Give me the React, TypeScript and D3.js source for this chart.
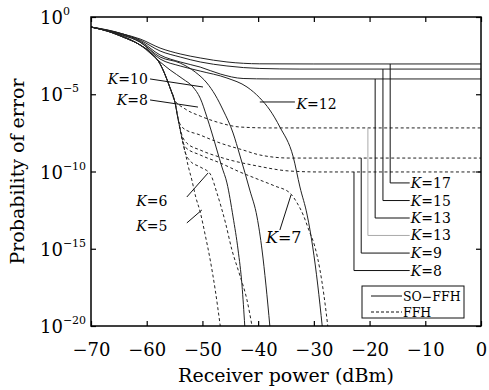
import { useEffect, useRef } from "react";
import * as d3 from "d3";

type Pt = [number, number]; // [receiver power dBm, log10 of error probability]

// SO-FFH (solid)
const soK17: Pt[] = [[-70, -0.65], [-64.3, -1.1], [-61.2, -1.42], [-57.6, -2.01], [-54, -2.39], [-50.4, -2.65], [-45.6, -2.91], [-39.7, -3.03], [-30, -3.04], [0, -3.04]];
const soK15: Pt[] = [[-70, -0.65], [-64.3, -1.1], [-61.2, -1.49], [-57.6, -2.2], [-54, -2.59], [-50.4, -2.91], [-45.6, -3.17], [-39.7, -3.33], [-32.5, -3.37], [0, -3.37]];
const soK13: Pt[] = [[-70, -0.65], [-64.3, -1.1], [-61.2, -1.55], [-57.6, -2.46], [-54, -2.91], [-50.4, -3.24], [-46.8, -3.69], [-42.7, -3.98], [-37.9, -4.01], [0, -4.01]];
const soK12: Pt[] = [[-70, -0.65], [-64.3, -1.17], [-61.2, -1.62], [-57.6, -2.72], [-54, -3.17], [-50.4, -3.5], [-45.6, -3.95], [-42, -4.53], [-39.7, -5.24], [-37.9, -6.02], [-36.1, -7.12], [-33.7, -9.06], [-32.5, -11], [-31.2, -12.82], [-30.2, -14.89], [-29.3, -17.35], [-28.5, -20]];
const soK10: Pt[] = [[-70, -0.65], [-64.3, -1.17], [-61.2, -1.62], [-57.6, -2.59], [-54, -2.98], [-51.3, -3.56], [-49.2, -4.27], [-47.7, -5.05], [-46.3, -6.02], [-44.5, -7.51], [-43.3, -8.93], [-41.5, -11.2], [-40.2, -12.94], [-39.3, -15.08], [-38.6, -17.35], [-37.9, -20]];
const soK8: Pt[] = [[-70, -0.65], [-64.3, -1.23], [-61.2, -1.81], [-57.6, -2.91], [-55.8, -3.43], [-53.5, -4.01], [-51.7, -4.53], [-50.4, -5.25], [-49.2, -6.47], [-48.3, -7.51], [-47.4, -8.61], [-46.5, -9.71], [-45.6, -10.74], [-44.5, -12.94], [-43.6, -15.08], [-42.9, -17.35], [-42.4, -20]];

// FFH (dashed)
const ffhStart: Pt[] = [[-70, -0.65], [-66.6, -0.97], [-64.3, -1.29], [-61.2, -1.81], [-59.4, -2.27], [-57.6, -3.04], [-55.8, -4.6]];
const ffhK13: Pt[] = [...ffhStart, [-55.1, -5.31], [-53.1, -5.95], [-50.4, -6.41], [-46.8, -6.86], [-43.3, -7.12], [-37.9, -7.18], [0, -7.18]];
const ffhK9: Pt[] = [...ffhStart, [-54.9, -5.57], [-54.4, -6.54], [-53.5, -7.18], [-50.4, -7.64], [-46.8, -8.16], [-42.7, -8.61], [-39.7, -8.93], [-34.3, -9.13], [0, -9.13]];
const ffhK8: Pt[] = [...ffhStart, [-54.9, -5.57], [-54.4, -6.54], [-53.8, -7.51], [-52.8, -8.16], [-50.4, -8.61], [-46.3, -9.13], [-40.2, -9.64], [-34.3, -9.97], [-28.9, -10.03], [0, -10.03]];
const ffhK7: Pt[] = [...ffhStart, [-54.9, -5.57], [-54.4, -6.54], [-53.8, -7.64], [-53.1, -8.41], [-50.4, -8.93], [-46.8, -9.45], [-43.3, -10.03], [-39.7, -10.55], [-37, -10.94], [-34.3, -11.39], [-33, -12.04], [-31.9, -12.82], [-30.9, -13.79], [-29.8, -14.89], [-28.9, -16.38], [-28.2, -17.99], [-27.5, -20]];
const ffhK6: Pt[] = [...ffhStart, [-54.9, -5.57], [-54.4, -6.54], [-53.8, -7.64], [-53.1, -8.74], [-52.2, -9.32], [-50.4, -9.71], [-48.6, -10.16], [-47.4, -11.39], [-45.9, -13.27], [-44.7, -15.08], [-43.3, -16.7], [-42, -18.32], [-41.1, -20]];
const ffhK5: Pt[] = [...ffhStart, [-54.9, -5.57], [-54.4, -6.54], [-53.8, -7.64], [-53.1, -8.74], [-52.6, -9.58], [-51.9, -10.55], [-51.2, -11.65], [-50.4, -12.62], [-49.5, -14.11], [-48.6, -15.73], [-47.7, -17.67], [-46.8, -20]];

const solidCurves = [soK17, soK15, soK13, soK12, soK10, soK8];
const dashedCurves = [ffhK13, ffhK9, ffhK8, ffhK7, ffhK6, ffhK5];

const xTicks = [-70, -60, -50, -40, -30, -20, -10, 0];
const yTicks = [0, -5, -10, -15, -20];

// right-hand labels: floor level, leader x, label level
const rightLabels = ["17", "15", "13", "13", "9", "8"];
const rightFloors = [-3.04, -3.37, -4.01, -7.18, -9.13, -10.03];
const rightLeaderX = [-16.3, -17.6, -19.0, -20.3, -21.5, -22.8];
const rightLabelY = [-10.74, -11.88, -13.01, -14.14, -15.28, -16.41];
const rightGray = [false, false, false, true, false, false];

// in-plot labels: text, anchor point, leader start, leader end
const sideLabels = [
  { k: "10", at: [-59.8, -4.01], anchor: "end", from: [-59.4, -4.01], to: [-49.9, -4.53] },
  { k: "8", at: [-59.8, -5.37], anchor: "end", from: [-59.4, -5.37], to: [-50.8, -5.83] },
  { k: "6", at: [-56.3, -11.91], anchor: "end", from: [-52.8, -11.65], to: [-49.0, -10.1] },
  { k: "5", at: [-56.3, -13.53], anchor: "end", from: [-52.8, -13.33], to: [-50.1, -12.49] },
  { k: "12", at: [-33.1, -5.63], anchor: "start", from: [-39.7, -5.5], to: [-33.4, -5.5] },
  { k: "7", at: [-35.4, -14.3], anchor: "middle", from: [-36.1, -13.79], to: [-34.1, -11.52] },
];

const FONT = "'DejaVu Serif', serif";

const App = () => {
  const ref = useRef<SVGSVGElement | null>(null);

  useEffect(() => {
    if (!ref.current) return;
    const width = 489;
    const height = 390;
    const margin = { top: 17, right: 8, bottom: 64, left: 91 };

    const svg = d3.select(ref.current);
    svg.selectAll("*").remove();
    svg.attr("width", width).attr("height", height);

    const x = d3.scaleLinear().domain([-70, 0]).range([margin.left, width - margin.right]);
    const y = d3.scaleLinear().domain([0, -20]).range([margin.top, height - margin.bottom]);

    const line = d3
      .line<Pt>()
      .x((d) => x(d[0]))
      .y((d) => y(d[1]))
      .curve(d3.curveMonotoneX);

    const plot = svg.append("g");

    // FFH curves
    dashedCurves.forEach((c, i) => {
      plot
        .append("path")
        .attr("d", line(c))
        .attr("fill", "none")
        .attr("stroke", "#222")
        .attr("stroke-width", 1)
        .attr("stroke-dasharray", "3,2.5")
        .attr("stroke-dashoffset", i * 0.9);
    });

    // SO-FFH curves
    solidCurves.forEach((c) => {
      plot
        .append("path")
        .attr("d", line(c))
        .attr("fill", "none")
        .attr("stroke", "#222")
        .attr("stroke-width", 1);
    });

    // right leaders
    rightLabels.forEach((k, i) => {
      const lx = x(rightLeaderX[i]);
      plot
        .append("path")
        .attr("d", `M${lx},${y(rightFloors[i])}V${y(rightLabelY[i])}H${x(-12.8)}`)
        .attr("fill", "none")
        .attr("stroke", rightGray[i] ? "#aaa" : "#111")
        .attr("stroke-width", 1);
      const t = plot
        .append("text")
        .attr("x", x(-12.6))
        .attr("y", y(rightLabelY[i]) + 5)
        .attr("font-family", FONT)
        .attr("font-size", 14);
      t.append("tspan").attr("font-style", "italic").text("K");
      t.append("tspan").text("=" + k);
    });

    // in-plot labels
    sideLabels.forEach((s) => {
      plot
        .append("line")
        .attr("x1", x(s.from[0]))
        .attr("y1", y(s.from[1]))
        .attr("x2", x(s.to[0]))
        .attr("y2", y(s.to[1]))
        .attr("stroke", "#111")
        .attr("stroke-width", 1);
      const t = plot
        .append("text")
        .attr("x", x(s.at[0]))
        .attr("y", y(s.at[1]) + 5)
        .attr("text-anchor", s.anchor)
        .attr("font-family", FONT)
        .attr("font-size", s.k === "7" ? 16 : 14);
      t.append("tspan").attr("font-style", "italic").text("K");
      t.append("tspan").text("=" + s.k);
    });

    // legend
    const lg = svg.append("g").attr("transform", "translate(362,286)");
    lg.append("rect").attr("width", 102).attr("height", 32).attr("fill", "#fff").attr("stroke", "#111").attr("stroke-width", 1);
    lg.append("line").attr("x1", 9).attr("x2", 40).attr("y1", 10).attr("y2", 10).attr("stroke", "#111");
    lg.append("line").attr("x1", 9).attr("x2", 40).attr("y1", 26).attr("y2", 26).attr("stroke", "#111").attr("stroke-dasharray", "3,2");
    lg.append("text").attr("x", 41).attr("y", 15).attr("font-family", FONT).attr("font-size", 12.5).text("SO−FFH");
    lg.append("text").attr("x", 41).attr("y", 30.5).attr("font-family", FONT).attr("font-size", 12.5).text("FFH");

    // axes (inside ticks on all four sides)
    const xb = svg
      .append("g")
      .attr("transform", `translate(0,${height - margin.bottom})`)
      .call(d3.axisBottom(x).tickValues(xTicks).tickSizeInner(-5).tickSizeOuter(0).tickPadding(17).tickFormat((d) => (d === 0 ? "0" : "−" + Math.abs(+d))));
    xb.select(".domain").remove();
    xb.selectAll("text").attr("font-family", FONT).attr("font-size", 18).attr("fill", "#000");

    const xt = svg
      .append("g")
      .attr("transform", `translate(0,${margin.top})`)
      .call(d3.axisTop(x).tickValues(xTicks).tickSizeInner(-5).tickSizeOuter(0).tickFormat(() => ""));
    xt.select(".domain").remove();

    const yl = svg
      .append("g")
      .attr("transform", `translate(${margin.left},0)`)
      .call(d3.axisLeft(y).tickValues(yTicks).tickSizeInner(-5).tickSizeOuter(0).tickFormat(() => ""));
    yl.select(".domain").remove();

    const yr = svg
      .append("g")
      .attr("transform", `translate(${width - margin.right},0)`)
      .call(d3.axisRight(y).tickValues(yTicks).tickSizeInner(-5).tickSizeOuter(0).tickFormat(() => ""));
    yr.select(".domain").remove();

    svg.selectAll(".tick line").attr("stroke", "#000").attr("stroke-width", 1.2);

    // y tick labels 10^n
    yTicks.forEach((v) => {
      const t = svg
        .append("text")
        .attr("x", 40)
        .attr("y", y(v) + 7)
        .attr("font-family", FONT)
        .attr("font-size", 18);
      t.append("tspan").text("10");
      t.append("tspan")
        .attr("dy", -9)
        .attr("font-size", 11)
        .text(v === 0 ? "0" : "−" + Math.abs(v));
    });

    // frame
    svg
      .append("rect")
      .attr("x", margin.left)
      .attr("y", margin.top)
      .attr("width", width - margin.left - margin.right)
      .attr("height", height - margin.top - margin.bottom)
      .attr("fill", "none")
      .attr("stroke", "#000")
      .attr("stroke-width", 1.5);

    // axis titles
    svg
      .append("text")
      .attr("x", x(-35))
      .attr("y", 382)
      .attr("text-anchor", "middle")
      .attr("font-family", FONT)
      .attr("font-size", 19)
      .text("Receiver power (dBm)");

    svg
      .append("text")
      .attr("transform", `translate(24,${(margin.top + height - margin.bottom) / 2}) rotate(-90)`)
      .attr("text-anchor", "middle")
      .attr("font-family", FONT)
      .attr("font-size", 19)
      .text("Probability of error");
  }, []);

  return (
    <div style={{ position: "absolute", left: 0, top: 0 }}>
      <svg ref={ref}></svg>
    </div>
  );
};

export default App;
